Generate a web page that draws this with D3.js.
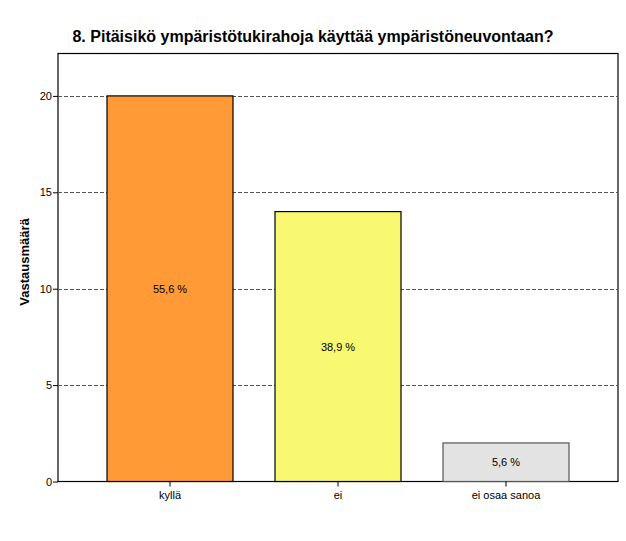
<!DOCTYPE html>
<html><head><meta charset="utf-8">
<script src="https://cdn.jsdelivr.net/npm/d3@7"></script>
<style>body{margin:0;background:#fff}svg{display:block}text{font-family:"Liberation Sans",Arial,sans-serif}</style>
</head><body><svg id="c" width="626" height="541"></svg>
<script>
const title = "8. Pitäisikö ympäristötukirahoja käyttää ympäristöneuvontaan?";
const categories = ["kyllä", "ei", "ei osaa sanoa"];
const counts = [20, 14, 2];
const percentLabels = ["55,6 %", "38,9 %", "5,6 %"];
const barColors = ["#FF9A36", "#F9F871", "#E3E3E3"];
const yTicks = [0, 5, 10, 15, 20];
const yLabel = "Vastausmäärä";

const svg = d3.select("#c");
const L = 58, R = 618, T = 53.5, B = 481.5;
const x = d3.scaleBand().domain(categories).range([L, R]).paddingInner(0.25).paddingOuter(0.2917);
const y = d3.scaleLinear().domain([0, 22.2]).range([B, T]);

svg.append("text").attr("x", 313).attr("y", 42).attr("text-anchor", "middle")
  .attr("font-weight", "bold").attr("font-size", 16).text(title);

// frame
svg.append("rect").attr("x", L).attr("y", T).attr("width", R - L).attr("height", B - T)
  .attr("fill", "none").attr("stroke", "#000").attr("stroke-width", 1.2);

// gridlines
svg.append("g").selectAll("line").data(yTicks.filter(d => d > 0)).join("line")
  .attr("x1", L).attr("x2", R).attr("y1", d => Math.round(y(d)) + 0.5).attr("y2", d => Math.round(y(d)) + 0.5)
  .attr("stroke", "#555").attr("stroke-dasharray", "4,2");

// bars
svg.append("g").selectAll("rect").data(categories).join("rect")
  .attr("x", d => x(d)).attr("width", x.bandwidth())
  .attr("y", (d, i) => y(counts[i])).attr("height", (d, i) => B - y(counts[i]))
  .attr("fill", (d, i) => barColors[i]).attr("stroke", (d, i) => i === 2 ? "#555" : "#000").attr("stroke-width", 1.2);

// percent labels
svg.append("g").selectAll("text").data(categories).join("text")
  .attr("x", d => x(d) + x.bandwidth() / 2).attr("y", (d, i) => (y(counts[i]) + B) / 2 + 4)
  .attr("text-anchor", "middle").attr("font-size", 11).text((d, i) => percentLabels[i]);

// y axis
const ya = svg.append("g").attr("transform", `translate(${L},0)`)
  .call(d3.axisLeft(y).tickValues(yTicks).tickSize(5).tickSizeOuter(0).tickFormat(d3.format("d")));
ya.select(".domain").remove();
ya.selectAll("text").attr("font-size", 11).attr("font-family", "Liberation Sans, Arial, sans-serif").attr("dx", 2);
ya.selectAll("line").attr("stroke", "#000");

// x axis
const xa = svg.append("g").attr("transform", `translate(0,${B})`)
  .call(d3.axisBottom(x).tickSize(5).tickSizeOuter(0));
xa.select(".domain").remove();
xa.selectAll("text").attr("font-size", 11).attr("font-family", "Liberation Sans, Arial, sans-serif").attr("dy", "0.9em");
xa.selectAll("line").attr("stroke", "#000");

svg.append("text").attr("transform", `translate(29,262) rotate(-90)`)
  .attr("text-anchor", "middle").attr("font-weight", "bold").attr("font-size", 13).text(yLabel);
</script></body></html>
